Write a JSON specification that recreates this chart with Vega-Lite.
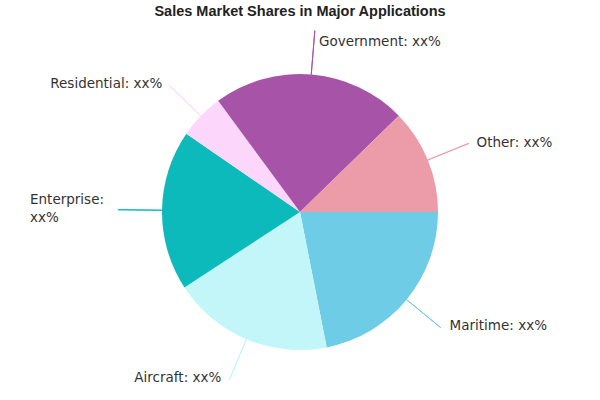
{
  "$schema": "https://vega.github.io/schema/vega-lite/v6.json",
  "width": 600,
  "height": 376,
  "autosize": {"type": "none"},
  "padding": {"top": 24, "left": 0, "right": 0, "bottom": 0},
  "background": "white",
  "title": {
    "text": "Sales Market Shares in Major Applications",
    "font": "Liberation Sans",
    "fontSize": 14.5,
    "fontWeight": "bold",
    "color": "#222222",
    "anchor": "middle",
    "offset": -14
  },
  "config": {"view": {"stroke": null}},
  "data": {
    "values": [
      {"idx": 1, "app": "Maritime", "share": 21.9, "label": "Maritime: xx%"},
      {"idx": 2, "app": "Aircraft", "share": 18.9, "label": "Aircraft: xx%"},
      {"idx": 3, "app": "Enterprise", "share": 18.8, "label": "Enterprise:\nxx%"},
      {"idx": 4, "app": "Residential", "share": 5.3, "label": "Residential: xx%"},
      {"idx": 5, "app": "Government", "share": 22.8, "label": "Government: xx%"},
      {"idx": 6, "app": "Other", "share": 12.3, "label": "Other: xx%"}
    ]
  },
  "encoding": {
    "theta": {"field": "share", "type": "quantitative", "stack": true, "scale": {"range": [1.5708, 7.854]}},
    "order": {"field": "idx", "type": "quantitative"}
  },
  "layer": [
    {
      "mark": {"type": "arc", "outerRadius": 138},
      "encoding": {
        "color": {
          "field": "app", "type": "nominal", "legend": null,
          "scale": {
            "domain": ["Maritime", "Aircraft", "Enterprise", "Residential", "Government", "Other"],
            "range": ["#6ecce6", "#c2f6f8", "#0cb9bb", "#fcd6fb", "#a653a8", "#ec9ca8"]
          }
        }
      }
    },
    {
      "mark": {"type": "arc", "filled": false, "padAngle": 3, "strokeWidth": 1, "radius2": 138},
      "encoding": {
        "color": {"field": "app", "type": "nominal", "legend": null},
        "radius": {
          "condition": [
            {"test": "datum.app === 'Enterprise'", "value": 190},
            {"test": "datum.app === 'Government'", "value": 172}
          ],
          "value": 182
        }
      }
    },
    {
      "mark": {"type": "text", "radius": 172, "align": "left", "baseline": "middle", "dx": 5, "dy": 1, "font": "DejaVu Sans", "fontSize": 13.5, "color": "#333333"},
      "encoding": {"detail": {"field": "app"}, "text": {"condition": {"test": "datum.app === 'Government'", "field": "label"}, "value": ""}}
    },
    {
      "mark": {"type": "text", "radius": 182, "align": "left", "baseline": "middle", "dx": 8, "dy": 0, "font": "DejaVu Sans", "fontSize": 13.5, "color": "#333333"},
      "encoding": {"detail": {"field": "app"}, "text": {"condition": {"test": "datum.app === 'Other'", "field": "label"}, "value": ""}}
    },
    {
      "mark": {"type": "text", "radius": 182, "align": "left", "baseline": "middle", "dx": 9, "dy": -2, "font": "DejaVu Sans", "fontSize": 13.5, "color": "#333333"},
      "encoding": {"detail": {"field": "app"}, "text": {"condition": {"test": "datum.app === 'Maritime'", "field": "label"}, "value": ""}}
    },
    {
      "mark": {"type": "text", "radius": 182, "align": "right", "baseline": "middle", "dx": -8, "dy": -2, "font": "DejaVu Sans", "fontSize": 13.5, "color": "#333333"},
      "encoding": {"detail": {"field": "app"}, "text": {"condition": {"test": "datum.app === 'Aircraft'", "field": "label"}, "value": ""}}
    },
    {
      "mark": {"type": "text", "radius": 190, "align": "left", "baseline": "middle", "dx": -80, "dy": -10, "lineBreak": "\n", "lineHeight": 18, "font": "DejaVu Sans", "fontSize": 13.5, "color": "#333333"},
      "encoding": {"detail": {"field": "app"}, "text": {"condition": {"test": "datum.app === 'Enterprise'", "field": "label"}, "value": ""}}
    },
    {
      "mark": {"type": "text", "radius": 182, "align": "right", "baseline": "middle", "dx": -7, "dy": -1, "font": "DejaVu Sans", "fontSize": 13.5, "color": "#333333"},
      "encoding": {"detail": {"field": "app"}, "text": {"condition": {"test": "datum.app === 'Residential'", "field": "label"}, "value": ""}}
    }
  ]
}
